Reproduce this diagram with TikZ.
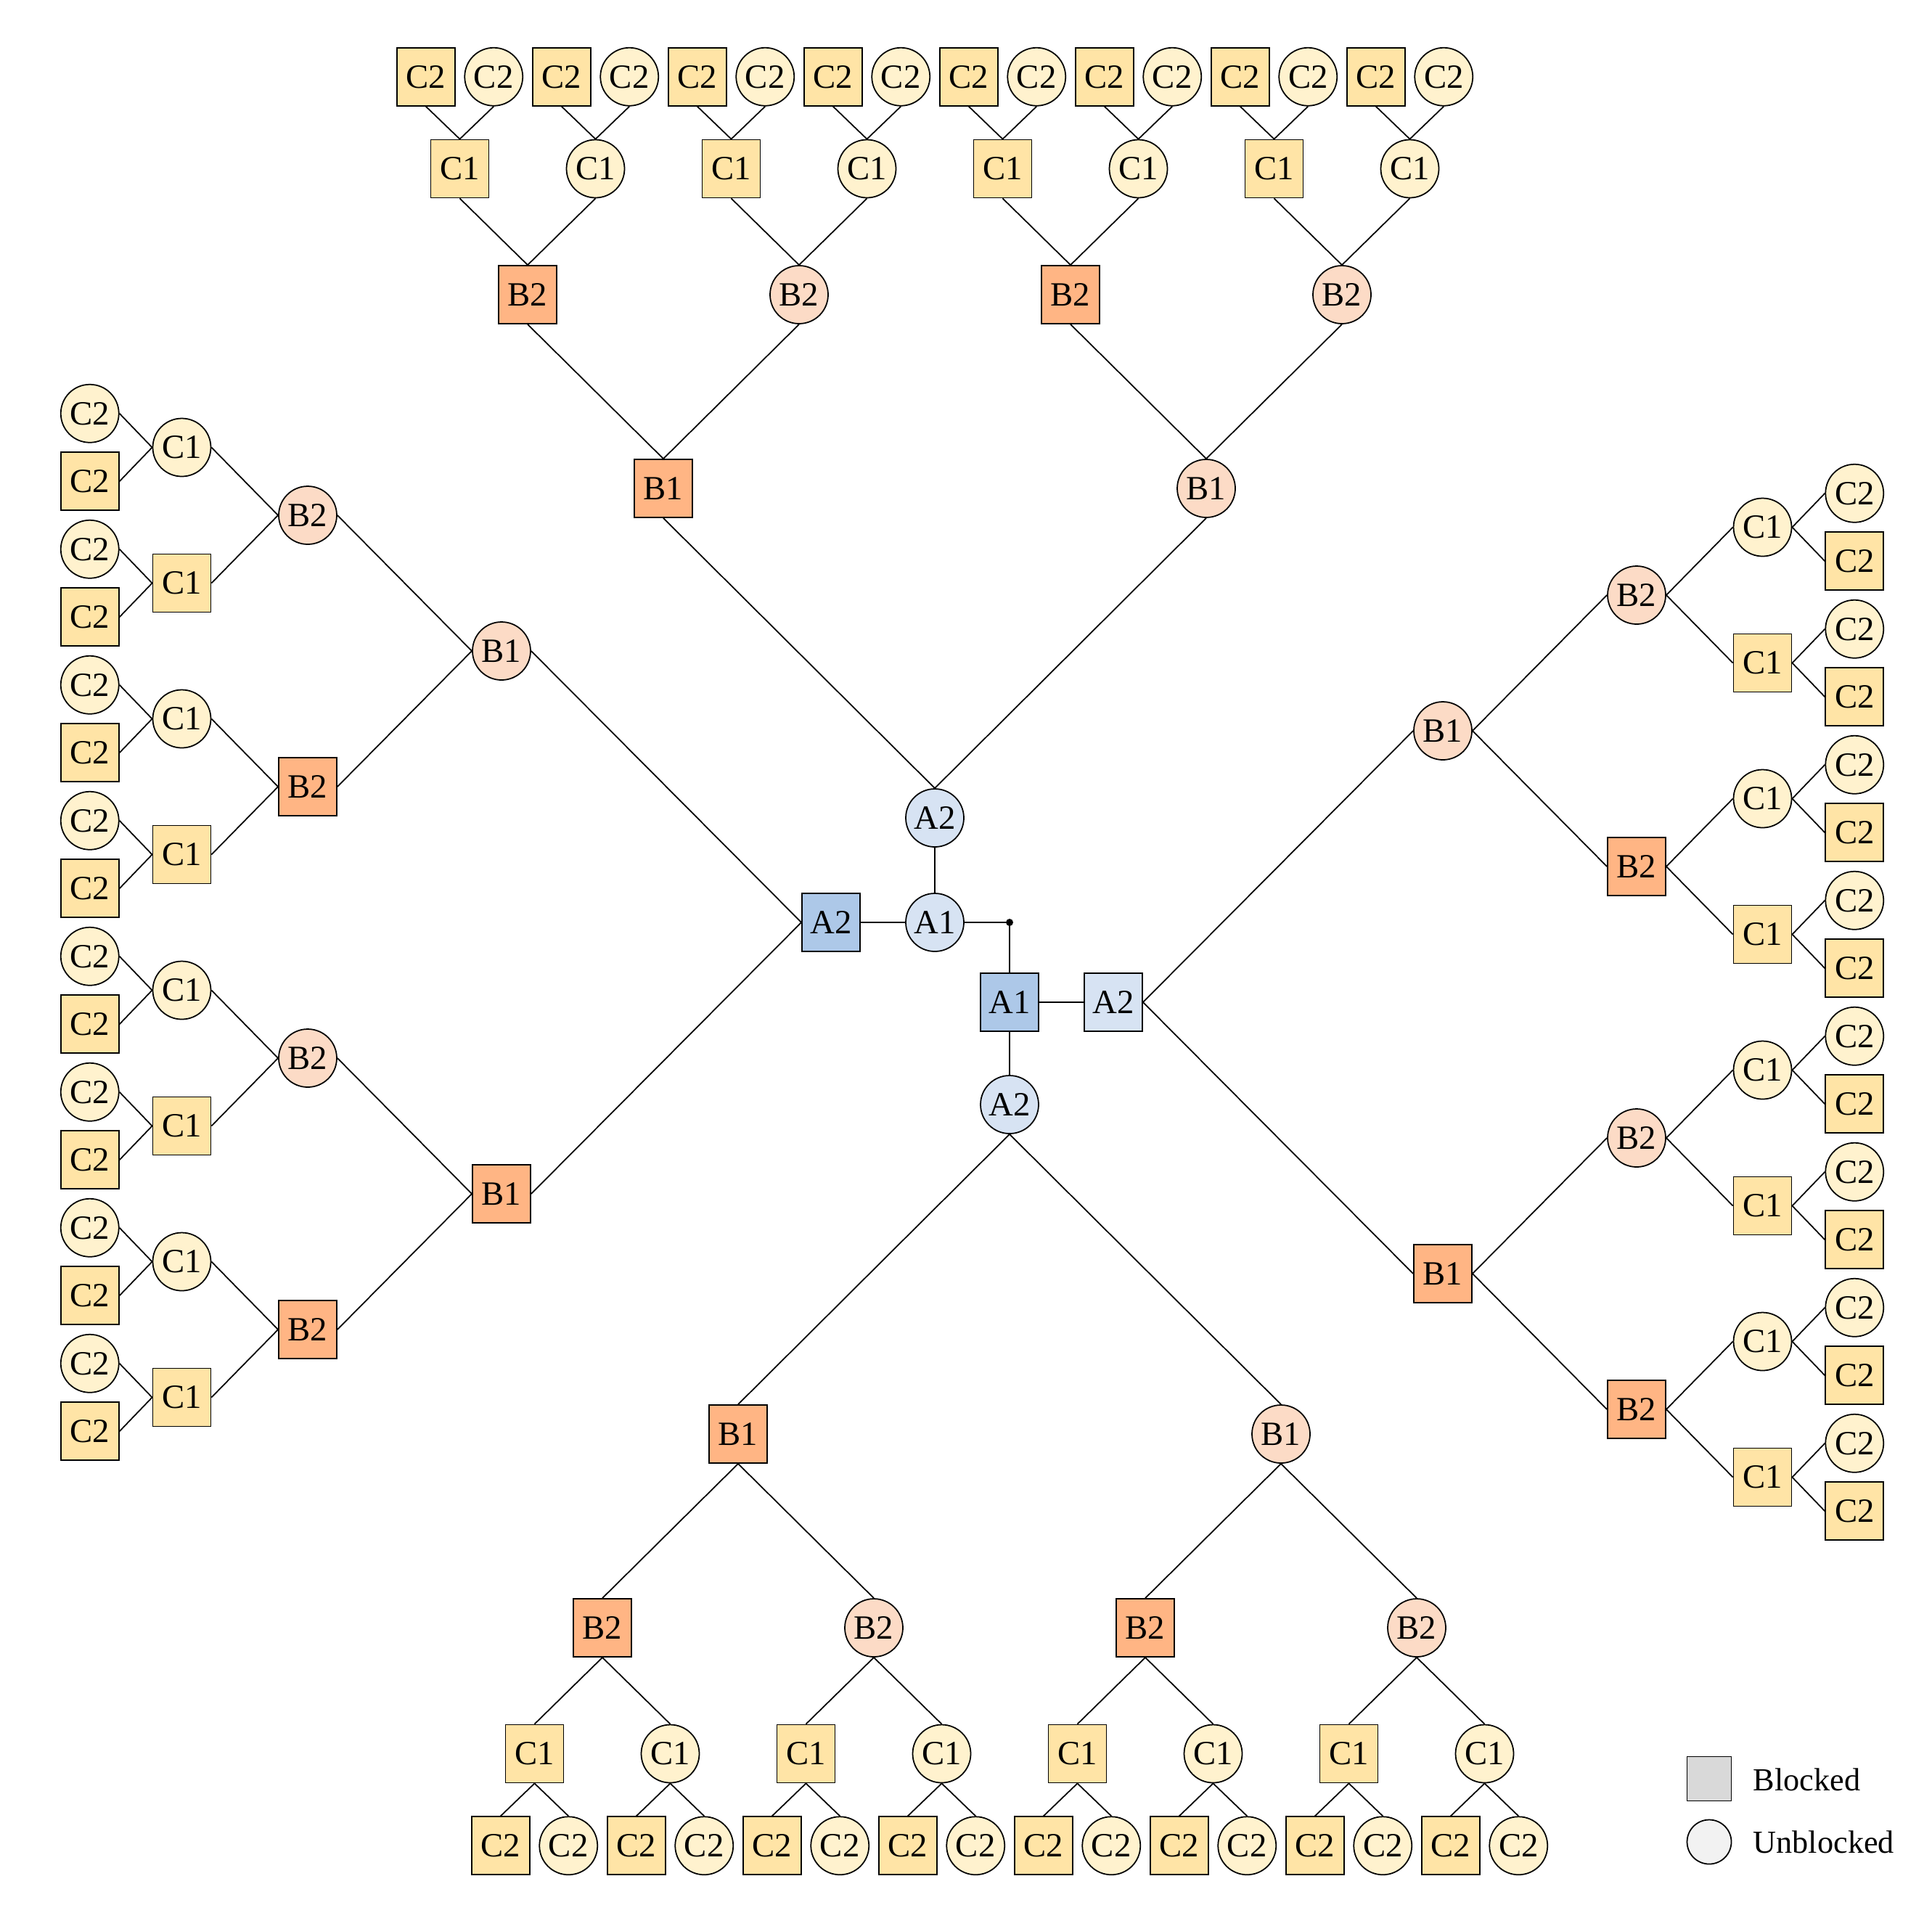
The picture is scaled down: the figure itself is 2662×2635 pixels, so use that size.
\documentclass[tikz,border=0pt]{standalone}
\usepackage{fontspec}
\setmainfont{Liberation Serif}
\definecolor{csq}{HTML}{FFE4A6}
\definecolor{cci}{HTML}{FFF2CE}
\definecolor{bsq}{HTML}{FFB584}
\definecolor{bci}{HTML}{FCDBC6}
\definecolor{asq}{HTML}{ADC8E8}
\definecolor{aci}{HTML}{D7E3F3}
\definecolor{lgsq}{HTML}{D9D9D9}
\definecolor{lgci}{HTML}{F2F2F2}
\tikzset{
  base/.style={draw=black, line width=0.5pt, inner sep=0pt, font=\fontsize{13.3}{16}\selectfont},
  sqn/.style={base, rectangle, minimum width=8mm, minimum height=8mm},
  cin/.style={base, circle, minimum size=8mm},
  Bsq/.style={sqn, fill=bsq},
  Bci/.style={cin, fill=bci},
  Csq/.style={sqn, fill=csq},
  Cci/.style={cin, fill=cci},
  link/.style={line width=0.5pt},
  lgtext/.style={anchor=base west, inner sep=0pt, font=\fontsize{12.6}{15}\selectfont}
}
% #1 prefix, #2 root node, #3 ux, #4 uy, #5 vx, #6 vy, #7 root x, #8 root y
\newcommand\mytree[8]{%
  \foreach \ia/\na in {-1/l,1/r}{%
    \pgfmathsetmacro\xa{#7+454*#3+\ia*374*#5}%
    \pgfmathsetmacro\ya{#8+454*#4+\ia*374*#6}%
    \node[bnode\na] (#1\na) at (\xa,\ya) {B1};
    \draw[link] (#2.\pa) -- (#1\na.\ca);
    \foreach \ib/\nb in {-1/l,1/r}{%
      \pgfmathsetmacro\xb{\xa+267*#3+\ib*187*#5}%
      \pgfmathsetmacro\yb{\ya+267*#4+\ib*187*#6}%
      \node[bnode\nb] (#1\na\nb) at (\xb,\yb) {B2};
      \draw[link] (#1\na.\pa) -- (#1\na\nb.\ca);
      \foreach \ic/\nc in {-1/l,1/r}{%
        \pgfmathsetmacro\xc{\xb+173.5*#3+\ic*93.5*#5}%
        \pgfmathsetmacro\yc{\yb+173.5*#4+\ic*93.5*#6}%
        \node[cnode\nc] (#1\na\nb\nc) at (\xc,\yc) {C1};
        \draw[link] (#1\na\nb.\pa) -- (#1\na\nb\nc.\ca);
        \foreach \id/\nd in {-1/l,1/r}{%
          \pgfmathsetmacro\xd{\xc+126.75*#3+\id*46.75*#5}%
          \pgfmathsetmacro\yd{\yc+126.75*#4+\id*46.75*#6}%
          \node[cnode\nd] (#1\na\nb\nc\nd) at (\xd,\yd) {C2};
          \draw[link] (#1\na\nb\nc.\pa) -- (#1\na\nb\nc\nd.\ca);
        }
      }
    }
  }%
}
\begin{document}
\begin{tikzpicture}[x=0.1mm, y=-0.1mm]
\useasboundingbox (0,0) rectangle (2662,2635);
% centre
\node[cin, fill=aci] (A1c) at (1288,1271) {A1};
\node[cin, fill=aci] (A2t) at (1288,1127) {A2};
\node[sqn, fill=asq] (A2l) at (1145,1271) {A2};
\node[circle, fill=black, inner sep=0pt, minimum size=1mm] (dot) at (1391,1271) {};
\node[sqn, fill=asq] (A1s) at (1391,1381) {A1};
\node[sqn, fill=aci] (A2r) at (1534,1381) {A2};
\node[cin, fill=aci] (A2b) at (1391,1522) {A2};
\draw[link] (A2t.south) -- (A1c.north);
\draw[link] (A2l.east) -- (A1c.west);
\draw[link] (A1c.east) -- (dot.center) -- (A1s.north);
\draw[link] (A1s.east) -- (A2r.west);
\draw[link] (A1s.south) -- (A2b.north);
% top tree
\def\pa{north}\def\ca{south}
\tikzset{bnodel/.style={Bsq}, bnoder/.style={Bci}, cnodel/.style={Csq}, cnoder/.style={Cci}}
\mytree{T}{A2t}{0}{-1}{1}{0}{1288}{1127}
% bottom tree
\def\pa{south}\def\ca{north}
\mytree{D}{A2b}{0}{1}{1}{0}{1391}{1522}
% left tree
\def\pa{west}\def\ca{east}
\tikzset{bnodel/.style={Bci}, bnoder/.style={Bsq}, cnodel/.style={Cci}, cnoder/.style={Csq}}
\mytree{L}{A2l}{-1}{0}{0}{1}{1145}{1271}
% right tree
\def\pa{east}\def\ca{west}
\mytree{R}{A2r}{1}{0}{0}{1}{1534}{1381}
% legend
\node[sqn, fill=lgsq, minimum width=6.1mm, minimum height=6.1mm] (lgb) at (2355,2451) {};
\node[cin, fill=lgci, minimum size=6.1mm] (lgu) at (2355,2538) {};
\node[lgtext] (lgbt) at (2415,2467) {Blocked};
\node[lgtext] (lgut) at (2415,2553) {Unblocked};
\end{tikzpicture}
\end{document}
